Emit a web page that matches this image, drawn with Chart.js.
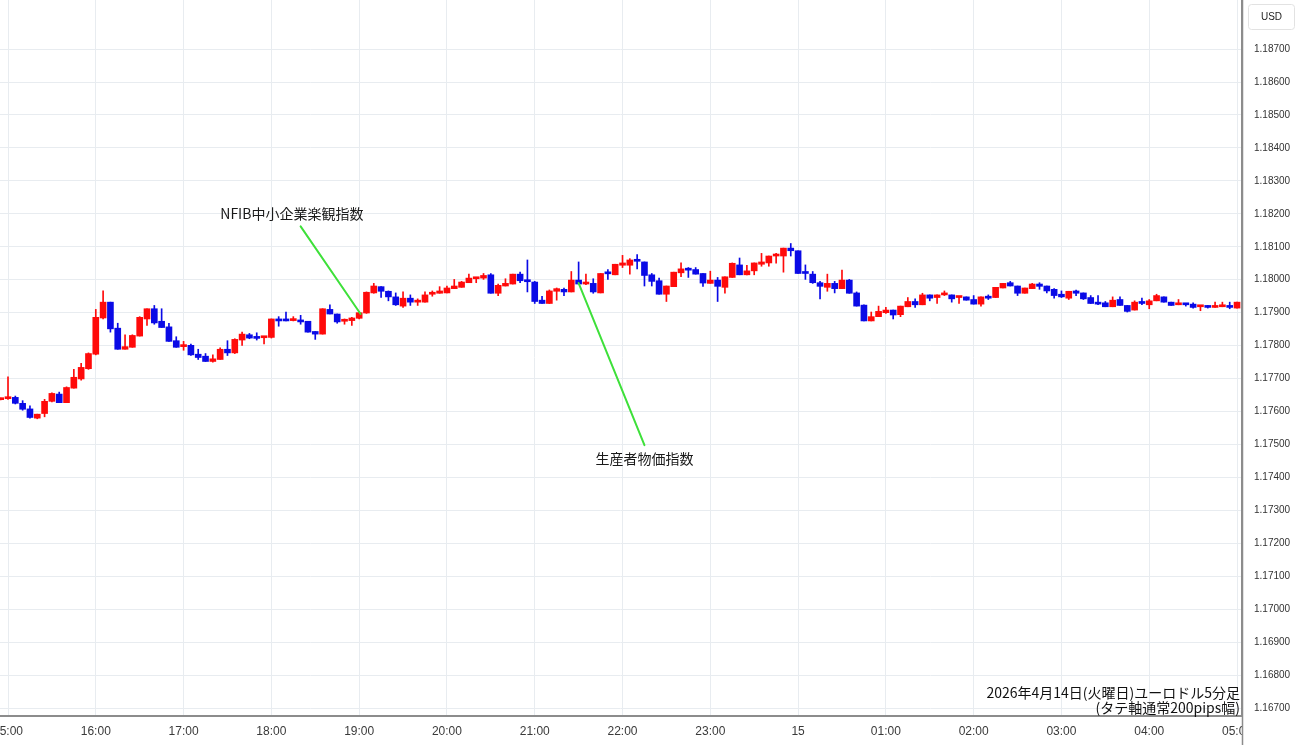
<!DOCTYPE html>
<html><head><meta charset="utf-8">
<script src="https://cdn.jsdelivr.net/npm/chart.js@4.4.1/dist/chart.umd.min.js"></script>
<style>html,body{margin:0;padding:0;background:#fff;overflow:hidden}</style>
</head><body>
<canvas id="c" width="1300" height="745" style="display:block"></canvas>
<script>
// ---- data (EUR/USD 5-minute candles, 2026-04-14) ----
const axisOrigin = "15:00";
const firstCandle = "14:55";
const candleMinutes = 5;

const opens = [1.17636,1.17639,1.17643,1.17625,1.17608,1.17580,1.17594,1.17631,1.17653,1.17627,
1.17671,1.17699,1.17730,1.17774,1.17884,1.17932,1.17853,1.17789,1.17795,1.17829,
1.17881,1.17912,1.17874,1.17857,1.17815,1.17797,1.17801,1.17774,1.17768,1.17752,
1.17758,1.17789,1.17778,1.17817,1.17833,1.17824,1.17824,1.17825,1.17881,1.17877,
1.17876,1.17878,1.17874,1.17843,1.17835,1.17910,1.17896,1.17874,1.17876,1.17883,
1.17899,1.17960,1.17979,1.17965,1.17948,1.17920,1.17944,1.17932,1.17932,1.17956,
1.17959,1.17960,1.17973,1.17977,1.17991,1.18003,1.18005,1.18015,1.17959,1.17981,
1.17987,1.18017,1.17997,1.17993,1.17938,1.17928,1.17965,1.17971,1.17963,1.17999,
1.17987,1.17989,1.17960,1.18020,1.18015,1.18044,1.18044,1.18060,1.18054,1.18015,
1.17997,1.17956,1.17979,1.18021,1.18033,1.18031,1.18019,1.17989,1.17999,1.17977,
1.18007,1.18045,1.18015,1.18027,1.18047,1.18051,1.18072,1.18072,1.18096,1.18088,
1.18021,1.18017,1.17991,1.17977,1.17989,1.17973,1.17999,1.17960,1.17923,1.17875,
1.17888,1.17900,1.17908,1.17894,1.17918,1.17934,1.17924,1.17954,1.17946,1.17954,
1.17954,1.17946,1.17948,1.17940,1.17926,1.17948,1.17946,1.17975,1.17991,1.17981,
1.17959,1.17973,1.17987,1.17981,1.17971,1.17956,1.17944,1.17966,1.17960,1.17946,
1.17932,1.17930,1.17918,1.17940,1.17922,1.17908,1.17932,1.17924,1.17936,1.17948,
1.17932,1.17924,1.17928,1.17926,1.17918,1.17920,1.17916,1.17918,1.17922,1.17914];

const highs = [1.17641,1.17705,1.17647,1.17633,1.17617,1.17592,1.17637,1.17657,1.17659,1.17675,
1.17728,1.17746,1.17778,1.17910,1.17966,1.17932,1.17868,1.17833,1.17833,1.17888,
1.17912,1.17922,1.17912,1.17868,1.17827,1.17813,1.17805,1.17789,1.17776,1.17772,
1.17793,1.17815,1.17821,1.17841,1.17837,1.17839,1.17827,1.17881,1.17888,1.17902,
1.17888,1.17892,1.17874,1.17843,1.17912,1.17924,1.17896,1.17881,1.17886,1.17904,
1.17963,1.17989,1.17979,1.17966,1.17960,1.17963,1.17954,1.17942,1.17963,1.17966,
1.17979,1.17981,1.18001,1.17995,1.18017,1.18005,1.18019,1.18019,1.17987,1.18003,
1.18017,1.18023,1.18060,1.17995,1.17950,1.17969,1.17975,1.17975,1.18025,1.18054,
1.18017,1.18003,1.18019,1.18031,1.18047,1.18074,1.18064,1.18076,1.18054,1.18019,
1.18005,1.17981,1.18023,1.18051,1.18037,1.18037,1.18019,1.18026,1.18007,1.18009,
1.18051,1.18066,1.18044,1.18051,1.18080,1.18072,1.18080,1.18096,1.18110,1.18088,
1.18045,1.18025,1.17995,1.18017,1.17995,1.18029,1.18001,1.17963,1.17924,1.17902,
1.17920,1.17916,1.17908,1.17920,1.17946,1.17942,1.17959,1.17954,1.17954,1.17966,
1.17954,1.17950,1.17948,1.17952,1.17948,1.17954,1.17977,1.17989,1.17995,1.17981,
1.17975,1.17989,1.17991,1.17981,1.17973,1.17966,1.17965,1.17969,1.17960,1.17952,
1.17952,1.17934,1.17948,1.17948,1.17922,1.17936,1.17944,1.17940,1.17956,1.17948,
1.17932,1.17940,1.17928,1.17930,1.17922,1.17922,1.17932,1.17932,1.17932,1.17932];

const lows = [1.17635,1.17637,1.17623,1.17604,1.17580,1.17578,1.17584,1.17629,1.17627,1.17627,
1.17671,1.17695,1.17728,1.17772,1.17881,1.17841,1.17789,1.17789,1.17795,1.17829,
1.17861,1.17865,1.17855,1.17813,1.17795,1.17786,1.17770,1.17758,1.17752,1.17750,
1.17758,1.17770,1.17776,1.17801,1.17821,1.17817,1.17805,1.17823,1.17859,1.17875,
1.17875,1.17865,1.17841,1.17819,1.17835,1.17896,1.17868,1.17865,1.17861,1.17881,
1.17898,1.17959,1.17946,1.17936,1.17922,1.17916,1.17922,1.17922,1.17932,1.17950,
1.17959,1.17960,1.17973,1.17977,1.17991,1.17991,1.18001,1.17959,1.17952,1.17981,
1.17987,1.17991,1.17963,1.17928,1.17928,1.17928,1.17938,1.17952,1.17963,1.17987,
1.17985,1.17959,1.17960,1.18001,1.18015,1.18037,1.18017,1.18033,1.17981,1.17981,
1.17956,1.17934,1.17979,1.18009,1.18007,1.18017,1.17980,1.17989,1.17934,1.17959,
1.18007,1.18015,1.18015,1.18015,1.18041,1.18041,1.18050,1.18023,1.18072,1.18019,
1.18001,1.17989,1.17942,1.17965,1.17960,1.17973,1.17959,1.17920,1.17875,1.17875,
1.17888,1.17898,1.17881,1.17888,1.17918,1.17916,1.17924,1.17936,1.17928,1.17952,
1.17932,1.17928,1.17938,1.17926,1.17920,1.17940,1.17946,1.17975,1.17981,1.17952,
1.17959,1.17973,1.17971,1.17960,1.17944,1.17946,1.17940,1.17952,1.17940,1.17928,
1.17924,1.17918,1.17918,1.17922,1.17902,1.17908,1.17924,1.17912,1.17936,1.17932,
1.17922,1.17924,1.17920,1.17914,1.17906,1.17914,1.17916,1.17918,1.17912,1.17914];

const closes = [1.17639,1.17643,1.17625,1.17607,1.17582,1.17592,1.17631,1.17655,1.17627,1.17673,
1.17704,1.17734,1.17776,1.17886,1.17932,1.17851,1.17789,1.17797,1.17831,1.17886,
1.17912,1.17869,1.17855,1.17813,1.17795,1.17801,1.17772,1.17764,1.17752,1.17760,
1.17789,1.17778,1.17819,1.17835,1.17823,1.17822,1.17826,1.17881,1.17875,1.17875,
1.17878,1.17872,1.17841,1.17835,1.17912,1.17896,1.17872,1.17878,1.17884,1.17900,
1.17962,1.17981,1.17965,1.17948,1.17924,1.17944,1.17932,1.17934,1.17954,1.17960,
1.17966,1.17975,1.17981,1.17993,1.18005,1.18005,1.18013,1.17959,1.17983,1.17989,
1.18017,1.17997,1.17994,1.17934,1.17928,1.17966,1.17973,1.17963,1.17999,1.17987,
1.17989,1.17963,1.18019,1.18018,1.18047,1.18051,1.18060,1.18056,1.18013,1.17995,
1.17956,1.17981,1.18023,1.18033,1.18029,1.18017,1.17990,1.17999,1.17980,1.18009,
1.18050,1.18015,1.18027,1.18051,1.18054,1.18072,1.18076,1.18096,1.18088,1.18019,
1.18019,1.17991,1.17980,1.17989,1.17973,1.17999,1.17959,1.17920,1.17875,1.17888,
1.17904,1.17908,1.17893,1.17920,1.17934,1.17924,1.17954,1.17944,1.17954,1.17956,
1.17942,1.17950,1.17938,1.17926,1.17948,1.17944,1.17977,1.17989,1.17981,1.17959,
1.17975,1.17987,1.17980,1.17966,1.17952,1.17948,1.17965,1.17959,1.17942,1.17928,
1.17926,1.17918,1.17938,1.17922,1.17904,1.17932,1.17928,1.17936,1.17952,1.17932,
1.17922,1.17928,1.17924,1.17916,1.17922,1.17916,1.17922,1.17924,1.17916,1.17932];

const xTickLabels = ["15:00","16:00","17:00","18:00","19:00","20:00","21:00","22:00","23:00","15","01:00","02:00","03:00","04:00","05:00"];
const yTickLabels = ["1.18700","1.18600","1.18500","1.18400","1.18300","1.18200","1.18100","1.18000","1.17900","1.17800","1.17700",
"1.17600","1.17500","1.17400","1.17300","1.17200","1.17100","1.17000","1.16900","1.16800","1.16700"];

const annotationTexts = ["NFIB中小企業楽観指数","生産者物価指数"];
const annotationLineFrom = [["18:20",1.18162],["21:30",1.17990]];
const annotationLineTo   = [["19:01",1.17896],["22:15",1.17498]];
const annotationTextAt   = [["18:14",1.18199],["22:15",1.17458]];

const captionLines = ["2026年4月14日(火曜日)ユーロドル5分足","(タテ軸通常200pips幅)"];
const currencyLabel = "USD";

// ---- helpers ----
const toMin = s => { const [h,m] = s.split(':').map(Number); return h*60+m; };
const originMin = toMin(axisOrigin);
const relMin = s => { let r = toMin(s) - originMin; if (r < -120) r += 1440; return r; };
const t0 = relMin(firstCandle);

const UP = '#ff0a0a', DOWN = '#0a0ae6';
const colors = opens.map((o,i) => closes[i] >= o ? UP : DOWN);
const wicks = opens.map((o,i) => ({x: t0 + i*candleMinutes, y: [lows[i], highs[i]]}));
const bodies = opens.map((o,i) => ({x: t0 + i*candleMinutes, y: [o, closes[i]]}));

const GRID = '#e8ecf0';

const overlay = {
  id: 'overlay',
  afterDraw(chart) {
    const ctx = chart.ctx, a = chart.chartArea;
    const xs = chart.scales.x, ys = chart.scales.y;
    const W = chart.width, H = chart.height;
    ctx.save();
    // cover x labels under the price axis
    ctx.fillStyle = '#fff';
    ctx.fillRect(a.right + 1, a.bottom + 1, W - a.right, H - a.bottom);
    ctx.strokeStyle = '#8c8c8c'; ctx.lineWidth = 1.5;
    ctx.beginPath(); ctx.moveTo(a.right + 0.5, a.top); ctx.lineTo(a.right + 0.5, H); ctx.stroke();

    // currency box
    const bx = a.right + 6, by = 4, bw = 46, bh = 25, r = 3;
    ctx.fillStyle = '#fff'; ctx.strokeStyle = '#e2e2e2'; ctx.lineWidth = 1;
    ctx.beginPath();
    ctx.roundRect(bx + 0.5, by + 0.5, bw, bh, r);
    ctx.fill(); ctx.stroke();
    ctx.fillStyle = '#222'; ctx.font = '500 10px "Liberation Sans", Arial, sans-serif';
    ctx.textAlign = 'center'; ctx.textBaseline = 'middle';
    ctx.fillText(currencyLabel, bx + bw/2 + 0.5, by + bh/2 + 1);

    // annotations
    ctx.strokeStyle = '#3ee03a'; ctx.lineWidth = 2; ctx.lineCap = 'round';
    annotationTexts.forEach((txt, k) => {
      const f = annotationLineFrom[k], t = annotationLineTo[k], p = annotationTextAt[k];
      ctx.beginPath();
      ctx.moveTo(xs.getPixelForValue(relMin(f[0])), ys.getPixelForValue(f[1]));
      ctx.lineTo(xs.getPixelForValue(relMin(t[0])), ys.getPixelForValue(t[1]));
      ctx.stroke();
      ctx.fillStyle = '#1a1a1a';
      ctx.font = '14px "Noto Sans CJK JP", sans-serif';
      ctx.textAlign = 'center'; ctx.textBaseline = 'middle';
      ctx.fillText(txt, xs.getPixelForValue(relMin(p[0])), ys.getPixelForValue(p[1]));
    });

    // caption
    ctx.fillStyle = '#111';
    ctx.font = '14px "Noto Sans CJK JP", sans-serif';
    ctx.textAlign = 'right'; ctx.textBaseline = 'middle';
    ctx.fillText(captionLines[0], a.right - 2, 693);
    ctx.fillText(captionLines[1], a.right - 2, 708);
    ctx.restore();
  }
};

new Chart(document.getElementById('c').getContext('2d'), {
  type: 'bar',
  data: { datasets: [
    { label: 'wick', data: wicks, backgroundColor: colors, barThickness: 1, grouped: false, borderWidth: 0, order: 2 },
    { label: 'body', data: bodies, backgroundColor: colors, barThickness: 6, grouped: false, borderWidth: 0, minBarLength: 2, order: 1 }
  ]},
  options: {
    responsive: false, animation: false, devicePixelRatio: 1,
    layout: { padding: 0 },
    plugins: { legend: { display: false }, tooltip: { enabled: false } },
    scales: {
      x: {
        type: 'linear', position: 'bottom', min: -5.47, max: 843.4, offset: false,
        grid: { color: GRID, drawTicks: false, offset: false },
        border: { color: '#8c8c8c', width: 2 },
        ticks: { padding: 8, autoSkip: false, maxRotation: 0, color: '#3a3a3a',
          font: { family: '"Liberation Sans Narrow", "Liberation Sans", Arial, sans-serif', size: 12 },
          callback: v => xTickLabels[Math.round(v / 60)] },
        afterBuildTicks: s => { s.ticks = xTickLabels.map((_, k) => ({ value: k * 60 })); },
        afterFit: s => { s.height = 29; s.paddingLeft = 0; s.paddingRight = 0; }
      },
      y: {
        type: 'linear', position: 'right', min: 1.16676, max: 1.18849,
        grid: { color: GRID, drawTicks: false },
        border: { color: '#8c8c8c', width: 1.5 },
        ticks: { padding: 12, color: '#333',
          font: { family: '"Liberation Sans", Arial, sans-serif', size: 10 },
          callback: v => v.toFixed(5) },
        afterBuildTicks: s => { s.ticks = yTickLabels.map(l => ({ value: parseFloat(l) })); },
        afterFit: s => { s.width = 58; s.paddingTop = 0; s.paddingBottom = 0; }
      }
    }
  },
  plugins: [overlay]
});
</script>
</body></html>
